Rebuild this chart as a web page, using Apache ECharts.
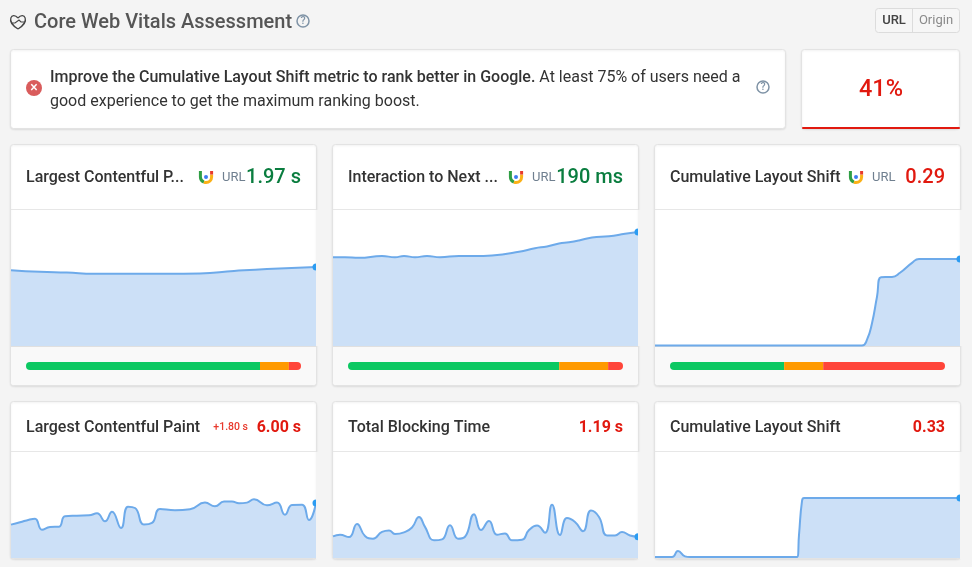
<!DOCTYPE html>
<html>
<head>
<meta charset="utf-8">
<title>Core Web Vitals Assessment</title>
<style>
html,body{margin:0;padding:0;background:#f4f4f4;}
#chart{width:972px;height:567px;}
</style>
<script src="https://cdn.jsdelivr.net/npm/echarts@6/dist/echarts.min.js"></script>
</head>
<body>
<div id="chart"></div>
<script>
// x is position along the test period (0..305)
var lcpFieldTimes = [0,29,56,83,123,156,189,223,256,305];
var lcpFieldValues = [1.89,1.85,1.83,1.80,1.80,1.80,1.81,1.87,1.92,1.97];
var inpFieldTimes = [0,12,26,49,62,71,82,94,107,126,142,159,186,202,214,226,236,246,259,276,292,305];
var inpFieldValues = [148,148,147,150,148,150,148,150,148,150,150,151,157,163,166,171,173,176,181,183,187,190];
var clsFieldTimes = [0,207,212,217,222,226,237,245,257,264,305];
var clsFieldValues = [0.002,0.002,0.021,0.076,0.164,0.229,0.230,0.244,0.277,0.29,0.29];
var lcpLabTimes = [0,9,18,24,31,39,48,54,66,78,86,94,101,110,117,124,133,141,149,164,179,194,204,213,221,228,236,243,256,266,274,281,291,298,305];
var lcpLabValues = [3.64,3.89,4.18,4.29,3.09,3.38,3.42,4.55,4.62,4.65,4.87,4.00,5.05,3.27,5.60,5.45,3.64,3.82,5.35,5.20,5.31,6.04,5.64,6.15,6.15,5.96,6.04,6.40,5.75,6.04,4.73,5.78,5.82,4.15,6.00];
var tbtLabTimes = [0,7,16,24,32,40,49,56,62,71,79,86,92,101,109,117,125,132,141,148,156,164,172,179,189,196,204,212,219,227,234,242,250,258,266,274,282,289,297,305];
var tbtLabValues = [1.21,1.30,1.17,1.90,1.23,1.08,1.46,1.54,1.34,1.43,1.70,2.29,1.74,0.99,1.04,1.83,1.08,1.19,2.45,1.56,2.07,1.30,1.37,0.99,1.02,1.56,1.81,1.41,2.98,1.28,2.23,2.01,1.50,2.65,2.29,1.26,1.26,1.45,1.26,1.19];
var clsLabTimes = [0,17,23,30,35,142,144,147,149,305];
var clsLabValues = [0.005,0.005,0.038,0.009,0.005,0.005,0.127,0.313,0.33,0.33];

// share of good / needs improvement / poor in percent
var goodShare = [85.1,76.8,41.5];
var mediumShare = [10.5,17.8,14.2];
var poorShare = [4.4,5.4,44.3];

var fieldTitles = ['Largest Contentful P...','Interaction to Next ...','Cumulative Layout Shift'];
var fieldScores = ['1.97 s','190 ms','0.29'];
var labTitles = ['Largest Contentful Paint','Total Blocking Time','Cumulative Layout Shift'];
var labScores = ['6.00 s','1.19 s','0.33'];

var cardLefts = [11,333,655];
var cardWidth = 305;
var GREEN = '#0a7d3f', RED = '#e1190f', FONT = 'Roboto';

var myChart = echarts.init(document.getElementById('chart'));
var gfx = [], grids = [], xAxes = [], yAxes = [], series = [];

function txt(x,y,s,size,color,weight,align){
    gfx.push({type:'text',x:x,y:y,z:20,style:{text:s,fontFamily:FONT,fontSize:size,fill:color,fontWeight:weight||400,align:align||'left',verticalAlign:'middle'}});
}
function box(x,y,w,h,fill,r,stroke,z){
    gfx.push({type:'rect',z:z||1,shape:{x:x,y:y,width:w,height:h,r:r||0},style:{fill:fill,stroke:stroke||null,lineWidth:1}});
}
function card(x,y,w,h){
    gfx.push({type:'rect',z:1,shape:{x:x+0.5,y:y+0.5,width:w-1,height:h-1,r:3},
        style:{fill:'#fff',stroke:'#e3e3e3',lineWidth:1,shadowBlur:2,shadowColor:'rgba(0,0,0,0.08)',shadowOffsetY:1}});
}
function helpIcon(x,y){
    gfx.push({type:'circle',z:20,shape:{cx:x,cy:y,r:6},style:{fill:null,stroke:'#7f93a6',lineWidth:1.5}});
    txt(x,y+0.5,'?',10.5,'#7f93a6',500,'center');
}
function chromeIcon(x,y){
    // small coloured U logo in the field cards
    gfx.push({type:'polyline',z:20,shape:{points:[[x-5.6,y-6],[x-5.6,y]]},style:{stroke:'#2f9e44',lineWidth:3,fill:null}});
    gfx.push({type:'arc',z:20,shape:{cx:x,cy:y,r:5.6,startAngle:Math.PI*0.62,endAngle:Math.PI},style:{stroke:'#2f9e44',lineWidth:3,fill:null}});
    gfx.push({type:'arc',z:20,shape:{cx:x,cy:y,r:5.6,startAngle:0,endAngle:Math.PI*0.62},style:{stroke:'#fbb116',lineWidth:3,fill:null}});
    gfx.push({type:'polyline',z:20,shape:{points:[[x+5.6,y],[x+5.6,y-2.5]]},style:{stroke:'#fbb116',lineWidth:3,fill:null}});
    gfx.push({type:'polyline',z:20,shape:{points:[[x+5.6,y-2.5],[x+5.6,y-6]]},style:{stroke:'#e8392c',lineWidth:3,fill:null}});
    gfx.push({type:'circle',z:20,shape:{cx:x,cy:y,r:2},style:{fill:'#3f7df0'}});
}

function addSpark(x,top,h,times,values,yMax){
    var i = grids.length, pts = [];
    for(var k=0;k<times.length;k++){
        pts.push(k==times.length-1 ? {value:[times[k],values[k]],symbol:'circle',symbolSize:7,itemStyle:{color:'#2b9cf2'}} : [times[k],values[k]]);
    }
    grids.push({left:x,top:top,width:cardWidth,height:h});
    xAxes.push({type:'value',gridIndex:i,min:0,max:305,show:false});
    yAxes.push({type:'value',gridIndex:i,min:0,max:yMax,show:false});
    series.push({type:'line',xAxisIndex:i,yAxisIndex:i,data:pts,smooth:0.5,symbol:'none',showSymbol:true,showAllSymbol:true,
        silent:true,animation:false,z:3,
        lineStyle:{color:'#6daaea',width:2},areaStyle:{color:'#cce0f7',opacity:1}});
}
function addStack(x,idx){
    var i = grids.length;
    grids.push({left:x+15,top:362,width:275,height:8});
    xAxes.push({type:'value',gridIndex:i,min:0,max:100,show:false});
    yAxes.push({type:'category',gridIndex:i,data:['share'],show:false});
    var parts = [[goodShare[idx],'#0cc862',[4,0,0,4]],[mediumShare[idx],'#ff9a00',0],[poorShare[idx],'#ff453a',[0,4,4,0]]];
    for(var k=0;k<parts.length;k++){
        series.push({type:'bar',xAxisIndex:i,yAxisIndex:i,stack:'s'+idx,barWidth:8,silent:true,animation:false,z:3,
            data:[parts[k][0]],itemStyle:{color:parts[k][1],borderRadius:parts[k][2]}});
    }
}

// page header
gfx.push({type:'bezierCurve',z:20,shape:{x1:18,y1:18,cpx1:12,cpy1:11,cpx2:5,cpy2:21,x2:18,y2:29},style:{stroke:'#444',lineWidth:1.3,fill:null}});
gfx.push({type:'bezierCurve',z:20,shape:{x1:18,y1:18,cpx1:24,cpy1:11,cpx2:31,cpy2:21,x2:18,y2:29},style:{stroke:'#444',lineWidth:1.3,fill:null}});
gfx.push({type:'polyline',z:20,shape:{points:[[12,23],[15,23],[19,20],[21,22],[24,22]]},style:{stroke:'#444',lineWidth:1.1,fill:null}});
txt(34,22.5,'Core Web Vitals Assessment',20,'#555',500);
helpIcon(303,21);

// URL / Origin switch
box(875.5,8.5,84,24,'#f6f6f6',3,'#dcdcdc');
gfx.push({type:'line',z:2,shape:{x1:912.5,y1:9,x2:912.5,y2:33},style:{stroke:'#dcdcdc',lineWidth:1}});
txt(894,21,'URL',13,'#444',500,'center');
txt(936,21,'Origin',13,'#8a8a8a',400,'center');

// message and score
card(10,49,776,80);
gfx.push({type:'circle',z:20,shape:{cx:34,cy:88,r:8},style:{fill:'#d95c5c'}});
txt(34,88,'×',14,'#fff',500,'center');
gfx.push({type:'text',x:50,y:78,z:20,style:{
    text:'{b|Improve the Cumulative Layout Shift metric to rank better in Google.}{r| At least 75% of users need a}',
    verticalAlign:'middle',
    rich:{b:{fontFamily:FONT,fontSize:16,fontWeight:500,fill:'#333'},r:{fontFamily:FONT,fontSize:16,fill:'#333'}}}});
txt(50,102,'good experience to get the maximum ranking boost.',16,'#333');
helpIcon(763,87);
card(801,49,159,80);
box(802,127,158,2,RED,1);
txt(881,90,'41%',23.5,RED,500,'center');

// field data row
var fieldMax = [3.39,226.7,0.453];
var fieldTimes = [lcpFieldTimes,inpFieldTimes,clsFieldTimes];
var fieldValues = [lcpFieldValues,inpFieldValues,clsFieldValues];
var iconX = [206,516,856], urlX = [222,532,872];
for(var i=0;i<3;i++){
    var x = cardLefts[i];
    card(x-1,144,cardWidth+2,242);
    box(x,346,cardWidth,39,'#f9f9f9',[0,0,3,3]);
    box(x,346,cardWidth,1,'#e0e0e0');
    box(x,209,cardWidth,1,'#e7e7e7');
    txt(x+15,177.5,fieldTitles[i],16,'#333',500);
    chromeIcon(iconX[i],177);
    txt(urlX[i],177.5,'URL',13,'#6f7f8f',400);
    txt(x+290,177.5,fieldScores[i],20,i==2?RED:GREEN,500,'right');
    addSpark(x,210,136,fieldTimes[i],fieldValues[i],fieldMax[i]);
    addStack(x,i);
    box(x+cardWidth,210,6,136,'#f4f4f4',0,null,10);
}

// lab data row
var labMax = [11.56,5.92,0.583];
var labTimes = [lcpLabTimes,tbtLabTimes,clsLabTimes];
var labValues = [lcpLabValues,tbtLabValues,clsLabValues];
for(var j=0;j<3;j++){
    var lx = cardLefts[j];
    card(lx-1,401,cardWidth+2,158);
    box(lx,451,cardWidth,1,'#e7e7e7');
    txt(lx+15,427.5,labTitles[j],16,'#333',500);
    txt(lx+290,427.5,labScores[j],16,RED,700,'right');
    addSpark(lx,452,106,labTimes[j],labValues[j],labMax[j]);
    box(lx+cardWidth,452,6,107,'#f4f4f4',0,null,10);
}
txt(248,427.5,'+1.80 s',10.5,'#e8392c',500,'right');

var option = {
    backgroundColor:'#f4f4f4',
    animation:false,
    graphic:{elements:gfx},
    grid:grids,
    xAxis:xAxes,
    yAxis:yAxes,
    series:series
};
myChart.setOption(option);
</script>
</body>
</html>
